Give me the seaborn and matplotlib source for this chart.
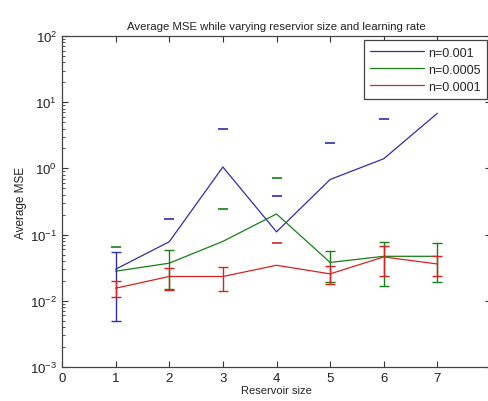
import numpy as np
import pandas as pd
import matplotlib
matplotlib.use('Agg')
import matplotlib.pyplot as plt
import seaborn as sns

# reservoir sizes
sizes = [1, 2, 3, 4, 5, 6, 7]

# average MSE per learning rate
mse_001 = [0.030, 0.078, 1.05, 0.11, 0.68, 1.40, 6.8]
err_001 = [0.025, 0.092, 2.95, 0.27, 1.72, 4.10, 9.0]

mse_0005 = [0.028, 0.037, 0.079, 0.205, 0.038, 0.047, 0.047]
err_0005 = [0.037, 0.022, 0.166, 0.515, 0.019, 0.030, 0.028]

mse_0001 = [0.0155, 0.0233, 0.0233, 0.0344, 0.0255, 0.046, 0.036]
err_0001 = [0.0042, 0.0085, 0.0093, 0.039, 0.0075, 0.022, 0.012]

labels = ['n=0.001', 'n=0.0005', 'n=0.0001']
colors = ['#2e2eaa', '#178017', '#dc2020']

df = pd.DataFrame({
    'size': sizes * 3,
    'mse': mse_001 + mse_0005 + mse_0001,
    'err': err_001 + err_0005 + err_0001,
    'rate': [labels[0]] * 7 + [labels[1]] * 7 + [labels[2]] * 7,
})

sns.set_theme(style='ticks')
plt.rcParams['font.family'] = ['Liberation Sans', 'DejaVu Sans']
plt.rcParams['mathtext.default'] = 'regular'

fig = plt.figure(figsize=(4.88, 4.02), dpi=100, facecolor='white')
ax = fig.add_axes([62 / 488, 34 / 402, 429 / 488, 331 / 402])

sns.lineplot(data=df, x='size', y='mse', hue='rate', palette=colors,
             estimator=None, sort=False, linewidth=0.9, ax=ax)

# error bars, like matlab on a log axis: when the lower end is <= 0
# only the upper cap remains
for lab, c in zip(labels, colors):
    d = df[df.rate == lab]
    x = d['size'].values
    y = d['mse'].values
    e = d['err'].values
    ok = (y - e) > 0
    ax.errorbar(x[ok], y[ok], yerr=e[ok], fmt='none', ecolor=c,
                elinewidth=1.0, capsize=3.5, capthick=1.0)
    ax.plot(x[~ok], (y + e)[~ok], ls='none', marker='_', ms=7,
            mew=1.2, color=c)

ax.set_yscale('log')
ax.set_ylim(1e-3, 1e2)
ax.set_xlim(0, 8)
ax.set_xticks(range(0, 8))
ax.tick_params(which='both', direction='in', top=True, right=True,
               labelsize=9.5, colors='#333333', labelcolor='#222222')
ax.tick_params(which='major', length=4, width=0.8)
ax.tick_params(which='minor', length=2, width=0.6)
for s in ax.spines.values():
    s.set_linewidth(0.9)
    s.set_color('#444444')

ax.set_title('Average MSE while varying reservior size and learning rate',
             fontsize=8.2, color='#222222', pad=5)
ax.set_xlabel('Reservoir size', fontsize=8, color='#222222', labelpad=1)
ax.set_ylabel('Average MSE', fontsize=8.5, color='#222222', labelpad=2)

leg = ax.legend(loc='upper right', fontsize=9, handlelength=4.3,
                frameon=True, fancybox=False, borderaxespad=0.35,
                labelspacing=0.4, handletextpad=0.3, borderpad=0.5)
leg.get_frame().set_edgecolor('#444444')
leg.get_frame().set_linewidth(0.9)
leg.get_frame().set_alpha(1)
leg.set_zorder(10)
for line in leg.get_lines():
    line.set_linewidth(0.9)

fig.savefig('out.png', dpi=100, facecolor='white')
